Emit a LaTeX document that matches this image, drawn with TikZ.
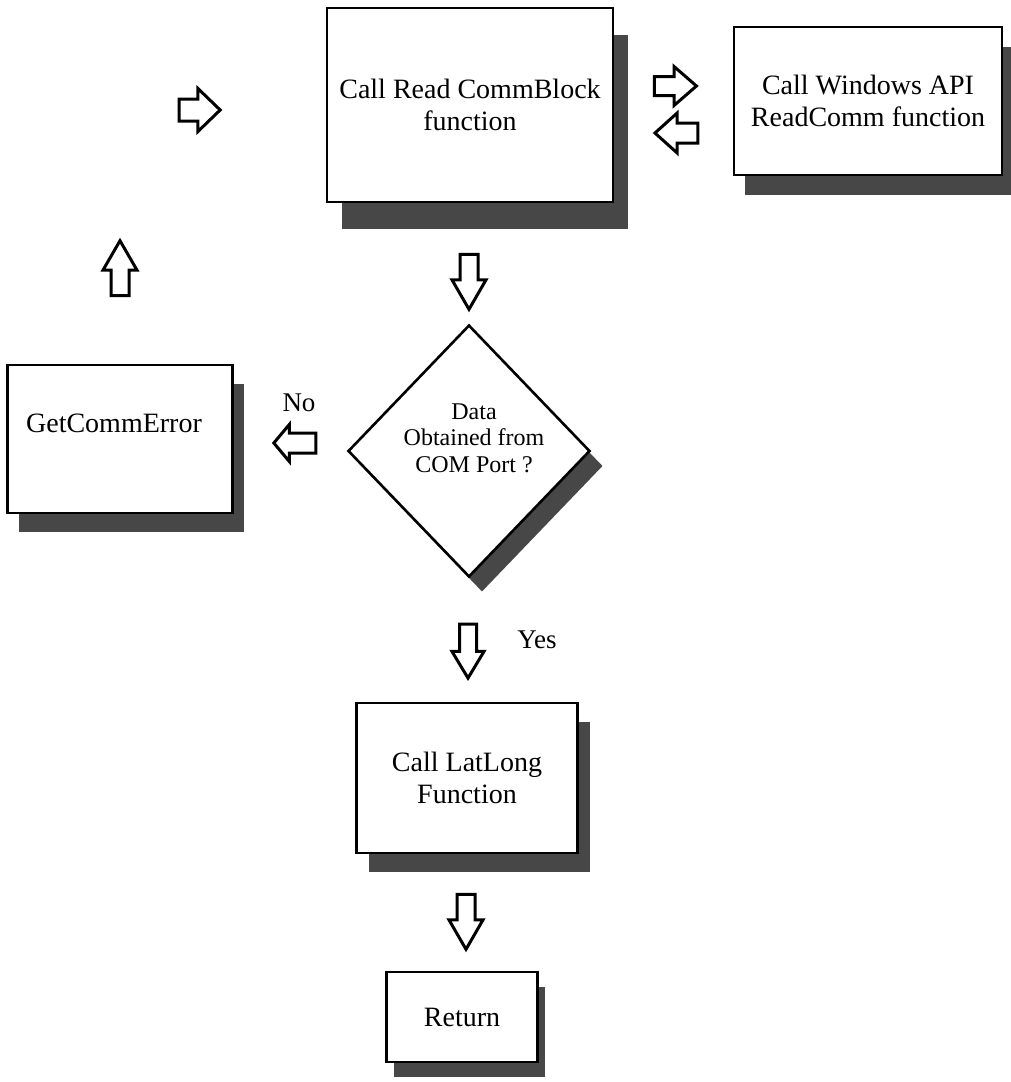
\documentclass[tikz,border=0pt]{standalone}
\usepackage{fontspec}
\setmainfont{Liberation Serif}
\usetikzlibrary{shapes.geometric,shapes.arrows,shadows}

\tikzset{
  outline/.style={draw=black, line width=2.6pt, fill=white},
  procbox/.style={outline, rectangle, inner sep=0pt,
    font=\fontsize{28}{32}\selectfont, align=center},
  boxshade/.style 2 args={drop shadow={shadow xshift=#1pt, shadow yshift=-#2pt,
    opacity=1, fill=black!72}},
  decision/.style={outline, diamond, inner sep=0pt},
  dtext/.style={font=\fontsize{24}{26.5}\selectfont, align=center, inner sep=0pt},
  lbl/.style={font=\fontsize{27}{30}\selectfont, inner sep=0pt},
  % block arrow: #1 = half shaft width
  barrow/.style={outline, line width=3pt, single arrow, inner sep=#1, line join=miter},
}

\begin{document}
\begin{tikzpicture}[x=1pt, y=-1pt]
  \fill[white] (0,0) rectangle (1010,1082);
  \useasboundingbox (0,0) rectangle (1010,1082);

  % process boxes
  \node[procbox, boxshade={15}{27}, minimum width=286pt, minimum height=194pt]
    (readblk) at (470,105) {Call Read CommBlock\\function};
  \node[procbox, boxshade={11}{20}, minimum width=268pt, minimum height=148pt]
    (winapi) at (868,101) {Call Windows API\\ReadComm function};
  \node[procbox, boxshade={11}{19}, minimum width=225pt, minimum height=148pt]
    (geterr) at (120,439) {};
  \node[font=\fontsize{28}{32}\selectfont, inner sep=0pt, anchor=base]
    (geterrtxt) at (114,432) {GetCommError};
  \node[procbox, boxshade={12}{19}, minimum width=221pt, minimum height=150pt]
    (latlong) at (467,778) {Call LatLong\\Function};
  \node[procbox, boxshade={7}{15}, minimum width=151pt, minimum height=90pt]
    (ret) at (462,1017) {Return};

  % decision
  \node[decision, drop shadow={shadow xshift=13pt, shadow yshift=-15pt, opacity=1, fill=black!72},
    minimum width=242pt, minimum height=252pt] (dec) at (469,451) {};
  \node[dtext] (dectxt) at (474,438) {Data\\Obtained from\\COM Port ?};

  % block arrows
  \node[barrow=9.5pt, minimum height=41pt, minimum width=40pt, single arrow head extend=10.5pt,
    single arrow tip angle=88] (aloop) at (194,110) {};
  \node[barrow=8pt, minimum height=42pt, minimum width=36pt, single arrow head extend=10pt,
    single arrow tip angle=82] (acall) at (670,86) {};
  \node[barrow=8.5pt, minimum height=43pt, minimum width=37pt, single arrow head extend=10pt,
    single arrow tip angle=84, shape border rotate=180] (aback) at (682,133) {};
  \node[barrow=7.5pt, minimum height=55pt, minimum width=31pt, single arrow head extend=8pt,
    single arrow tip angle=60, shape border rotate=270] (atodec) at (469,274) {};
  \node[barrow=7.5pt, minimum height=55pt, minimum width=31pt, single arrow head extend=8pt,
    single arrow tip angle=60, shape border rotate=90] (aup) at (120,276) {};
  \node[barrow=8.5pt, minimum height=42pt, minimum width=34pt, single arrow head extend=8.5pt,
    single arrow tip angle=100, shape border rotate=180] (ano) at (299,443) {};
  \node[barrow=7pt, minimum height=54pt, minimum width=29pt, single arrow head extend=7.5pt,
    single arrow tip angle=62, shape border rotate=270] (ayes) at (468,644) {};
  \node[barrow=7.5pt, minimum height=55pt, minimum width=31pt, single arrow head extend=8pt,
    single arrow tip angle=60, shape border rotate=270] (aret) at (466,914) {};

  % branch labels
  \node[lbl, anchor=base] (nolbl) at (299,411) {No};
  \node[lbl, anchor=base] (yeslbl) at (537,648) {Yes};
\end{tikzpicture}
\end{document}
